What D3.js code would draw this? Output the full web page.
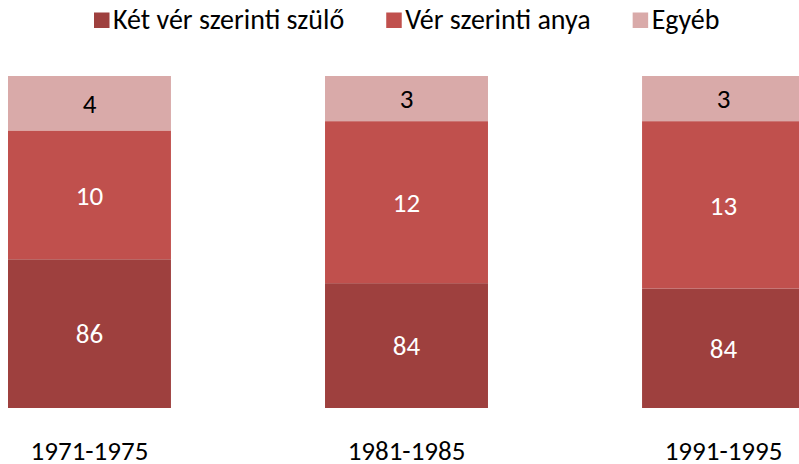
<!DOCTYPE html>
<html>
<head>
<meta charset="utf-8">
<script src="https://cdn.jsdelivr.net/npm/d3@7"></script>
<style>
  body { margin: 0; background: #fff; }
  text { font-family: Carlito, Lato, sans-serif; }
</style>
</head>
<body>
<div id="chart"></div>
<script>
// data (hidden value axis runs from 75 to 100)
var periods = ["1971-1975", "1981-1985", "1991-1995"];
var seriesNames = ["Két vér szerinti szülő", "Vér szerinti anya", "Egyéb"];
var ketSzulo = [86.2, 84.4, 84.0];
var anya = [9.7, 12.2, 12.6];
var egyeb = [4.1, 3.4, 3.4];
var colors = ["#9e403e", "#c0504d", "#d9aaa9"];
var labelColors = ["#ffffff", "#ffffff", "#000000"];

var width = 799, height = 464;

var svg = d3.select("#chart")
    .append("svg")
    .attr("width", width)
    .attr("height", height);

// build rows for the stack
var rows = periods.map(function(p, i) {
  var r = {period: p};
  r[seriesNames[0]] = ketSzulo[i];
  r[seriesNames[1]] = anya[i];
  r[seriesNames[2]] = egyeb[i];
  return r;
});

var stacked = d3.stack().keys(seriesNames)(rows);

var x = d3.scaleBand()
    .domain(periods)
    .range([8, 805])
    .paddingInner(0.486);

// axis min is 75, so clamp the bottom of the first segment
var y = d3.scaleLinear()
    .domain([75, 100])
    .range([408, 76])
    .clamp(true);

var color = d3.scaleOrdinal().domain(seriesNames).range(colors);
var labelColor = d3.scaleOrdinal().domain(seriesNames).range(labelColors);

// bars
var layers = svg.selectAll(".layer")
    .data(stacked)
    .enter()
    .append("g")
    .attr("class", "layer")
    .attr("fill", function(d) { return color(d.key); });

layers.selectAll("rect")
    .data(function(d) { return d; })
    .enter()
    .append("rect")
    .attr("x", function(d) { return x(d.data.period); })
    .attr("width", x.bandwidth())
    .attr("y", function(d) { return y(d[1]); })
    .attr("height", function(d) { return y(d[0]) - y(d[1]); });

// value labels
layers.selectAll("text")
    .data(function(d) { return d.map(function(v) { v.key = d.key; return v; }); })
    .enter()
    .append("text")
    .attr("x", function(d) { return x(d.data.period) + x.bandwidth() / 2; })
    .attr("y", function(d) { return (y(d[0]) + y(d[1])) / 2; })
    .attr("dy", "0.36em")
    .attr("text-anchor", "middle")
    .attr("font-size", 27)
    .attr("fill", function(d) { return labelColor(d.key); })
    .text(function(d) { return d3.format(".0f")(d[1] - d[0]); });

// category axis (no line, no ticks)
var xAxis = svg.append("g")
    .attr("transform", "translate(0,408)")
    .call(d3.axisBottom(x).tickSize(0).tickPadding(33));
xAxis.select(".domain").remove();
xAxis.selectAll("text")
    .attr("font-size", 27)
    .attr("font-family", "Carlito, Lato, sans-serif")
    .attr("fill", "#000");

// legend
var legend = svg.append("g").attr("transform", "translate(94,0)");
var lx = 0;
seriesNames.forEach(function(name) {
  var g = legend.append("g").attr("transform", "translate(" + lx + ",0)");
  g.append("rect")
      .attr("x", 0)
      .attr("y", 12.5)
      .attr("width", 15.5)
      .attr("height", 15.5)
      .attr("fill", color(name));
  var t = g.append("text")
      .attr("x", 19)
      .attr("y", 29)
      .attr("font-size", 28)
      .attr("fill", "#000")
      .text(name);
  lx += 19 + t.node().getComputedTextLength() + 42;
});
</script>
</body>
</html>
